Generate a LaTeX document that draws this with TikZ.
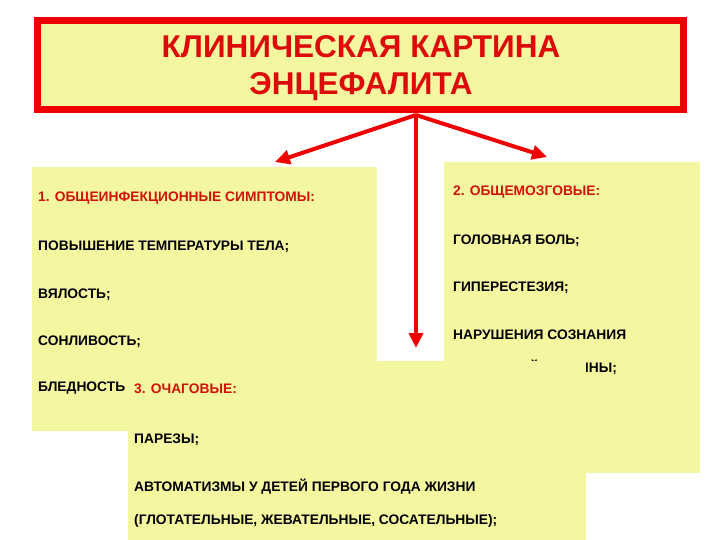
\documentclass[tikz,border=0pt]{standalone}
\usepackage{fontspec}
\setmainfont{Liberation Sans}
\usetikzlibrary{arrows.meta}
\definecolor{pale}{RGB}{245,247,160}
\definecolor{redline}{RGB}{240,0,0}
\definecolor{ttlred}{RGB}{220,10,10}
\definecolor{hdred}{RGB}{205,20,10}

\begin{document}
\begin{tikzpicture}[x=1pt,y=-1pt,
  panel/.style={fill=pale,draw=none,inner sep=0pt,anchor=north west},
  hdr/.style={anchor=base west,inner sep=0pt,font=\bfseries\fontsize{13.8}{16}\selectfont,text=hdred},
  itm/.style={anchor=base west,inner sep=0pt,font=\bfseries\fontsize{13.8}{16}\selectfont},
  ttl/.style={anchor=base,inner sep=0pt,text=ttlred,font=\bfseries\fontsize{31.5}{36}\selectfont},
  arr/.style={draw=redline,line width=4pt,-{Triangle[length=15pt,width=14pt]}}]
  \useasboundingbox (0,0) rectangle (720,540);

  % symptom boxes
  \node[panel,minimum width=345,minimum height=264] (obsh) at (32,167) {};
  \node[panel,minimum width=256,minimum height=311] (mozg) at (444,162) {};

  \node[hdr] (m0) at (453,196) {2. ОБЩЕМОЗГОВЫЕ:};
  \node[itm] (m1) at (453,244) {ГОЛОВНАЯ БОЛЬ;};
  \node[itm] (m2) at (453,291) {ГИПЕРЕСТЕЗИЯ;};
  \node[itm] (m3) at (453,339) {НАРУШЕНИЯ СОЗНАНИЯ};
  \node[itm] (m4) at (453,372) {РАЗЛИЧНОЙ ГЛУБИНЫ;};

  \node[hdr] (o0) at (38,202) {1. ОБЩЕИНФЕКЦИОННЫЕ СИМПТОМЫ:};
  \node[itm] (o1) at (38,250) {ПОВЫШЕНИЕ ТЕМПЕРАТУРЫ ТЕЛА;};
  \node[itm] (o2) at (38,298) {ВЯЛОСТЬ;};
  \node[itm] (o3) at (38,345) {СОНЛИВОСТЬ;};
  \node[itm] (o4) at (38,391) {БЛЕДНОСТЬ};

  % focal box on top
  \node[panel,minimum width=458,minimum height=179] (ochag) at (128,361) {};
  \node[hdr] (f0) at (134,393) {3. ОЧАГОВЫЕ:};
  \node[itm] (f1) at (134,443) {ПАРЕЗЫ;};
  \node[itm] (f2) at (134,491) {АВТОМАТИЗМЫ У ДЕТЕЙ ПЕРВОГО ГОДА ЖИЗНИ};
  \node[itm] (f3) at (134,524) {(ГЛОТАТЕЛЬНЫЕ, ЖЕВАТЕЛЬНЫЕ, СОСАТЕЛЬНЫЕ);};

  % title
  \node[draw=redline,line width=7pt,fill=pale,minimum width=646,minimum height=89] (title) at (360.5,65) {};
  \node[ttl] (t1) at (361,58) {КЛИНИЧЕСКАЯ КАРТИНА};
  \node[ttl] (t2) at (361,95) {ЭНЦЕФАЛИТА};

  \coordinate (src) at (416,115);
  \coordinate (tl) at (275,162);
  \coordinate (tr) at (547,157);
  \coordinate (td) at (416,348);
  \draw[arr] (src) -- (tl);
  \draw[arr] (src) -- (tr);
  \draw[arr] (src) -- (td);
\end{tikzpicture}
\end{document}
